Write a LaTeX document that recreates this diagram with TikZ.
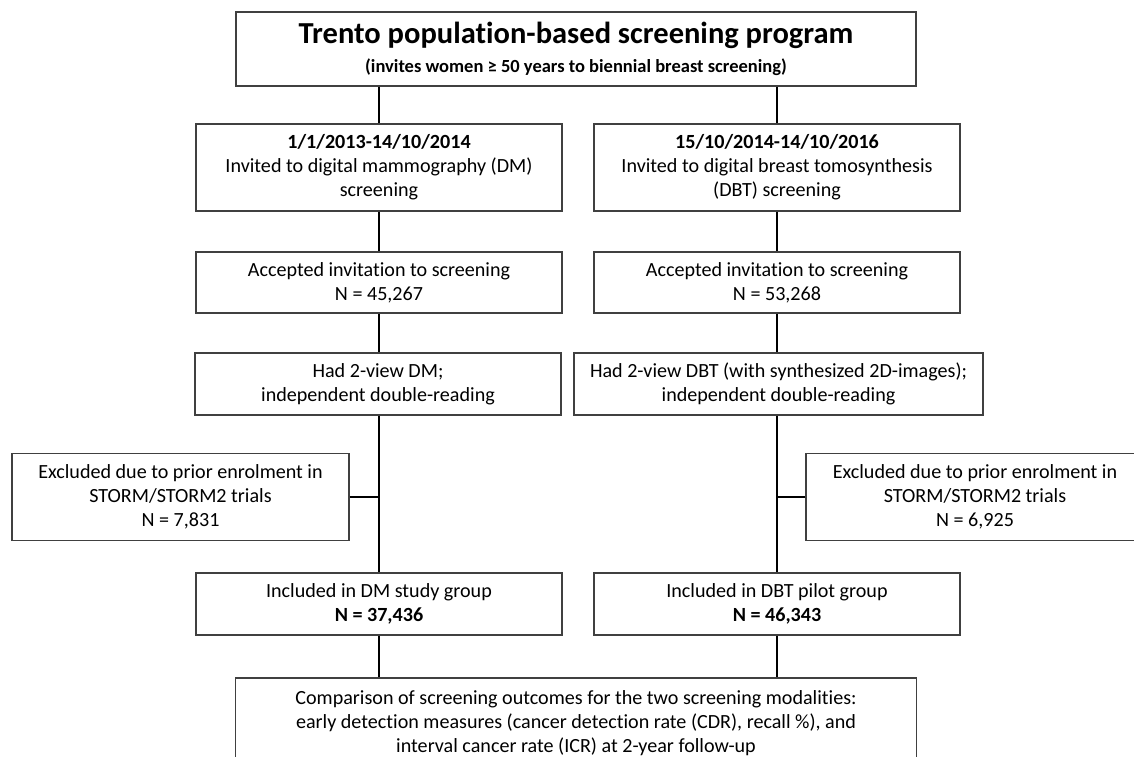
\documentclass[tikz,border=0pt]{standalone}
\usepackage{fontspec}
\setmainfont{Carlito}[Ligatures=TeX,RawFeature={-liga;-clig;-calt;-dlig}]
\begin{document}
\begin{tikzpicture}[x=1pt,y=-1pt,
  box/.style={draw=black!75,line width=1.1pt,fill=white,rectangle,align=center,inner sep=0pt,
    font=\fontsize{20.1}{24}\selectfont},
  link/.style={draw=black,line width=2pt}]
\useasboundingbox (0,0) rectangle (1134,756);
\clip (0,0) rectangle (1134,756);
% nodes
\node[box,minimum width=680pt,minimum height=74pt] (top) at (576,49)
  {{\fontsize{30.5}{34}\selectfont\bfseries Trento population-based screening program}\\[5pt]
   {\fontsize{18.5}{20}\selectfont\bfseries (invites women ≥ 50 years to biennial breast screening)}};
\node[box,minimum width=366pt,minimum height=87pt] (dminv) at (379,167.5)
  {\textbf{1/1/2013-14/10/2014}\\Invited to digital mammography (DM)\\screening};
\node[box,minimum width=366pt,minimum height=87pt] (dbtinv) at (777,167.5)
  {\textbf{15/10/2014-14/10/2016}\\Invited to digital breast tomosynthesis\\(DBT) screening};
\node[box,minimum width=366pt,minimum height=61pt] (dmacc) at (379,282.5)
  {Accepted invitation to screening\\N = 45,267};
\node[box,minimum width=366pt,minimum height=61pt] (dbtacc) at (777,282.5)
  {Accepted invitation to screening\\N = 53,268};
\node[box,minimum width=366pt,minimum height=62pt] (dmread) at (378,384)
  {Had 2-view DM;\\independent double-reading};
\node[box,minimum width=409pt,minimum height=62pt] (dbtread) at (778.5,384)
  {Had 2-view DBT (with synthesized 2D-images);\\independent double-reading};
\node[box,minimum width=337pt,minimum height=87pt] (exl) at (180.5,497)
  {Excluded due to prior enrolment in\\STORM/STORM2 trials\\N = 7,831};
\node[box,minimum width=338pt,minimum height=87pt] (exr) at (975,497)
  {Excluded due to prior enrolment in\\STORM/STORM2 trials\\N = 6,925};
\node[box,minimum width=366pt,minimum height=62pt] (dminc) at (379,604)
  {Included in DM study group\\\textbf{N = 37,436}};
\node[box,minimum width=366pt,minimum height=62pt] (dbtinc) at (777,604)
  {Included in DBT pilot group\\\textbf{N = 46,343}};
\node[box,minimum width=681pt,minimum height=90pt] (cmp) at (576,723)
  {Comparison of screening outcomes for the two screening modalities:\\
   early detection measures (cancer detection rate (CDR), recall \%), and\\
   interval cancer rate (ICR) at 2-year follow-up};
% connectors
\draw[link] (top.south -| dminv.north) -- (dminv.north);
\draw[link] (top.south -| dbtinv.north) -- (dbtinv.north);
\draw[link] (dminv.south) -- (dmacc.north);
\draw[link] (dbtinv.south) -- (dbtacc.north);
\draw[link] (dmacc.south) -- (dmacc.south |- dmread.north);
\draw[link] (dbtacc.south) -- (dbtacc.south |- dbtread.north);
\draw[link] (dminc.north |- dmread.south) -- (dminc.north);
\draw[link] (dbtinc.north |- dbtread.south) -- (dbtinc.north);
\draw[link] (exl.east) -- (exl.east -| dminc.north);
\draw[link] (exr.west) -- (exr.west -| dbtinc.north);
\draw[link] (dminc.south) -- (dminc.south |- cmp.north);
\draw[link] (dbtinc.south) -- (dbtinc.south |- cmp.north);
\end{tikzpicture}
\end{document}
